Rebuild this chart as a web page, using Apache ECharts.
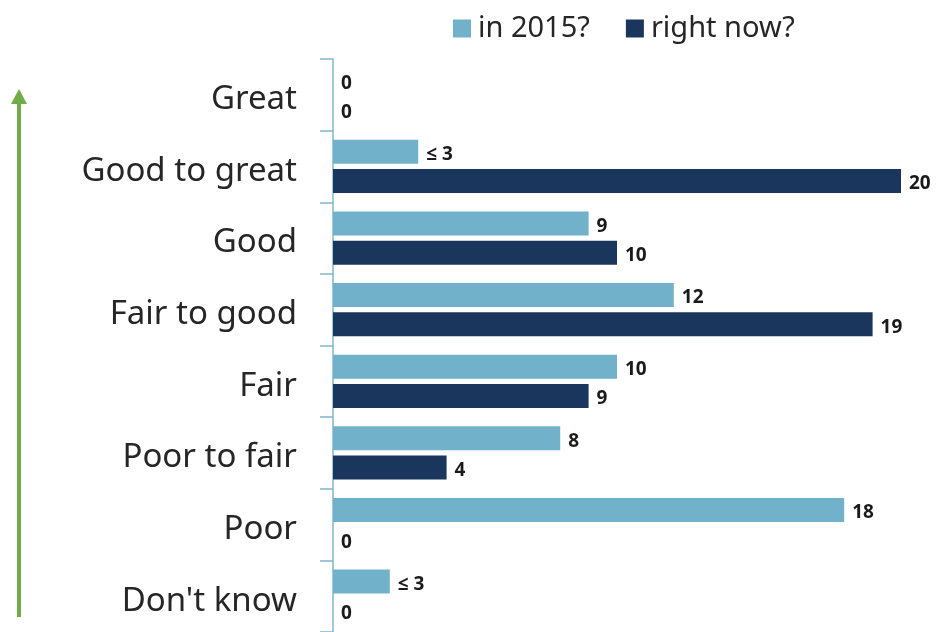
<!DOCTYPE html>
<html lang="en">
<head>
    <meta charset="UTF-8">
    <title>Quality rating</title>
    <script src="https://cdn.jsdelivr.net/npm/echarts@6/dist/echarts.min.js"></script>
    <style>
        html, body { margin: 0; padding: 0; background: #fff; }
    </style>
</head>
<body>
<div id="chart" style="width:937px;height:632px;"></div>

<script>
    // categories, top to bottom
    var categories = ['Great', 'Good to great', 'Good', 'Fair to good', 'Fair', 'Poor to fair', 'Poor', "Don't know"];
    // series values
    var values2015 = [0, 3, 9, 12, 10, 8, 18, 2];
    var valuesNow = [0, 20, 10, 19, 9, 4, 0, 0];
    // printed labels (small counts are masked)
    var labels2015 = ['0', '≤ 3', '9', '12', '10', '8', '18', '≤ 3'];
    var labelsNow = ['0', '20', '10', '19', '9', '4', '0', '0'];

    var chart = echarts.init(document.getElementById('chart'));

    var font = '"Noto Sans", "Open Sans", sans-serif';
    var barLabel = function (labels) {
        return {
            show: true,
            position: 'right',
            distance: 8,
            offset: [0, 3],
            color: '#1a1a1a',
            fontWeight: 'bold',
            fontSize: 19,
            fontFamily: font,
            formatter: function (p) { return labels[p.dataIndex]; }
        };
    };

    var option = {
        backgroundColor: '#fff',
        animation: false,
        legend: {
            top: 9,
            left: 448,
            itemWidth: 18,
            itemHeight: 18,
            itemGap: 36,
            icon: 'rect',
            textStyle: { fontSize: 29, color: '#262626', fontFamily: font, padding: [0, 0, 0, 2] },
            data: ['in 2015?', 'right now?']
        },
        grid: { left: 333, right: 36, top: 59, bottom: -5 },
        xAxis: {
            type: 'value',
            min: 0,
            max: 20,
            show: false
        },
        yAxis: {
            type: 'category',
            inverse: true,
            data: categories,
            axisLine: { lineStyle: { color: '#7fb6cc', width: 1.5 } },
            axisTick: { show: true, interval: 0, length: 13, lineStyle: { color: '#7fb6cc', width: 1.5 } },
            axisLabel: {
                margin: 36,
                formatter: function (v) { return '{c|' + v + '}'; },
                rich: {
                    c: { fontSize: 33, color: '#262626', fontFamily: font, padding: [10, 0, 0, 0] }
                }
            }
        },
        series: [
            {
                name: 'in 2015?',
                type: 'bar',
                data: values2015,
                barWidth: 24,
                barGap: '22%',
                itemStyle: { color: '#71b1c9' },
                label: barLabel(labels2015)
            },
            {
                name: 'right now?',
                type: 'bar',
                data: valuesNow,
                barWidth: 24,
                itemStyle: { color: '#1b365d' },
                label: barLabel(labelsNow)
            }
        ],
        graphic: [
            {
                type: 'line',
                shape: { x1: 19, y1: 102, x2: 19, y2: 617 },
                style: { stroke: '#70ad47', lineWidth: 4 }
            },
            {
                type: 'polygon',
                shape: { points: [[11, 104], [27, 104], [19, 89]] },
                style: { fill: '#70ad47' }
            }
        ]
    };

    chart.setOption(option);
</script>
</body>
</html>
